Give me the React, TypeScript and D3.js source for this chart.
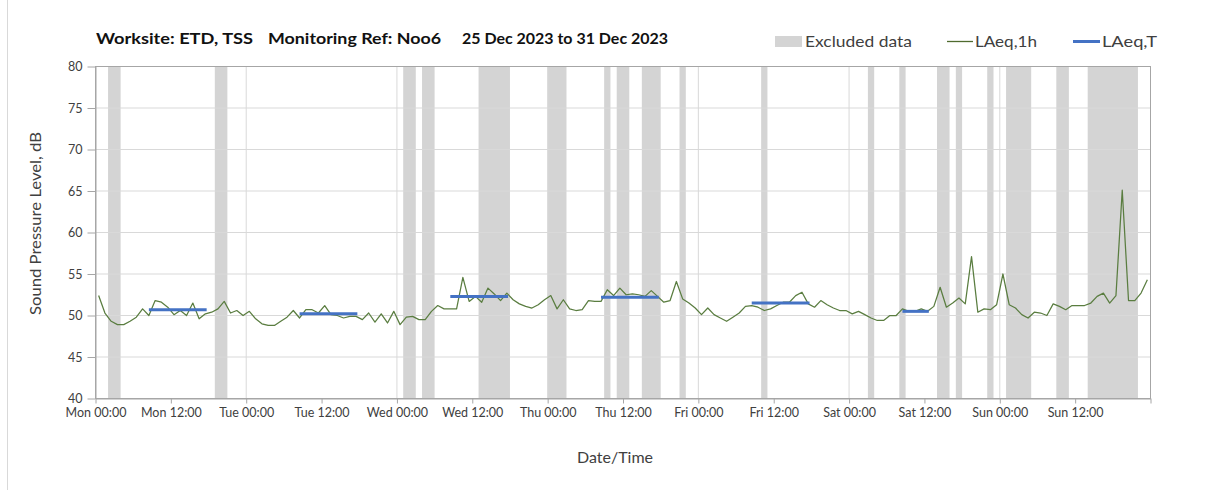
import { useEffect, useRef } from "react";
import * as d3 from "d3";

// hourly LAeq,1h values, Mon 00:00 -> Sun 23:00 (plotted mid-hour)
const laeq1h = [
  52.4, 50.3, 49.3, 48.9, 48.9, 49.3, 49.8, 50.8, 50.0, 51.8,
  51.6, 51.0, 50.1, 50.6, 50.0, 51.5, 49.6, 50.2, 50.4, 50.8,
  51.7, 50.3, 50.6, 50.0, 50.5, 49.6, 49.0, 48.8, 48.8, 49.3,
  49.8, 50.6, 49.7, 50.7, 50.7, 50.3, 51.2, 50.1, 50.0, 49.7,
  49.9, 49.9, 49.5, 50.3, 49.2, 50.2, 49.1, 50.5, 48.9, 49.8,
  49.9, 49.5, 49.5, 50.5, 51.2, 50.8, 50.8, 50.8, 54.6, 51.7,
  52.3, 51.6, 53.3, 52.6, 51.8, 52.7, 51.9, 51.4, 51.1, 50.9,
  51.3, 51.9, 52.4, 50.8, 51.9, 50.8, 50.6, 50.7, 51.8, 51.7,
  51.7, 53.1, 52.4, 53.3, 52.5, 52.6, 52.5, 52.3, 53.0, 52.3,
  51.6, 51.8, 54.1, 52.0, 51.5, 50.9, 50.1, 50.9, 50.1, 49.7,
  49.3, 49.8, 50.3, 51.1, 51.2, 51.0, 50.6, 50.8, 51.2, 51.6,
  51.6, 52.4, 52.8, 51.4, 51.0, 51.8, 51.3, 50.9, 50.6, 50.6,
  50.2, 50.5, 50.1, 49.7, 49.4, 49.4, 50.0, 50.0, 50.8, 50.5,
  50.5, 50.8, 50.5, 51.1, 53.4, 51.0, 51.5, 52.1, 51.4, 57.1,
  50.4, 50.8, 50.7, 51.3, 55.0, 51.3, 50.9, 50.1, 49.7, 50.4,
  50.3, 50.0, 51.4, 51.1, 50.7, 51.2, 51.2, 51.2, 51.5, 52.3,
  52.7, 51.5, 52.4, 65.1, 51.8, 51.8, 52.7, 54.3,
];

// excluded periods, hours from Mon 00:00
const excludedStart = [2, 19, 49, 52, 61, 72, 81, 83, 87, 93, 106, 123, 128, 134, 137, 142, 145, 153, 158];
const excludedEnd = [4, 21, 51, 54, 66, 75, 82, 85, 90, 94, 107, 124, 129, 136, 138, 143, 149, 155, 166];

// LAeq,T periods
const periodStart = [8, 32, 56, 80, 104, 128];
const periodEnd = [17, 41, 65, 89, 113, 132];
const laeqT = [50.7, 50.2, 52.3, 52.2, 51.5, 50.5];

const xTickLabels = [
  "Mon 00:00", "Mon 12:00", "Tue 00:00", "Tue 12:00", "Wed 00:00", "Wed 12:00",
  "Thu 00:00", "Thu 12:00", "Fri 00:00", "Fri 12:00", "Sat 00:00", "Sat 12:00",
  "Sun 00:00", "Sun 12:00", "",
];
const yTicks = [40, 45, 50, 55, 60, 65, 70, 75, 80];

const FONT = "Lato, 'Open Sans', sans-serif";

export default function App() {
  const svgRef = useRef<SVGSVGElement | null>(null);

  useEffect(() => {
    if (!svgRef.current) return;
    const svg = d3.select(svgRef.current);
    svg.selectAll("*").remove();

    const x = d3.scaleLinear().domain([0, 168]).range([95.5, 1150.5]);
    const y = d3.scaleLinear().domain([40, 80]).range([398.5, 66.5]);

    // chart border (left edge only visible)
    svg.append("line")
      .attr("x1", 7.5).attr("x2", 7.5).attr("y1", 0).attr("y2", 490)
      .attr("stroke", "#d9d9d9");

    // excluded bands
    svg.append("g")
      .selectAll("rect")
      .data(excludedStart)
      .enter()
      .append("rect")
      .attr("x", (d) => x(d))
      .attr("y", y(80))
      .attr("width", (d, i) => x(excludedEnd[i]) - x(d))
      .attr("height", y(40) - y(80))
      .attr("fill", "#d4d4d4");

    // gridlines
    svg.append("g")
      .selectAll("line")
      .data(yTicks.slice(1, -1))
      .enter()
      .append("line")
      .attr("x1", x(0)).attr("x2", x(168))
      .attr("y1", (d) => y(d)).attr("y2", (d) => y(d))
      .attr("stroke", "#d9d9d9");

    svg.append("g")
      .selectAll("line")
      .data([24, 48, 72, 96, 120, 144])
      .enter()
      .append("line")
      .attr("x1", (d) => x(d)).attr("x2", (d) => x(d))
      .attr("y1", y(80)).attr("y2", y(40))
      .attr("stroke", "#d9d9d9");

    // LAeq,1h line
    const line = d3.line<number>()
      .x((d, i) => x(i + 0.5))
      .y((d) => y(d));
    svg.append("path")
      .datum(laeq1h)
      .attr("d", line)
      .attr("fill", "none")
      .attr("stroke", "#5a7d40")
      .attr("stroke-width", 1.25)
      .attr("stroke-linejoin", "round");

    // LAeq,T segments
    svg.append("g")
      .selectAll("line")
      .data(laeqT)
      .enter()
      .append("line")
      .attr("x1", (d, i) => x(periodStart[i] + 0.5))
      .attr("x2", (d, i) => x(periodEnd[i] + 0.7))
      .attr("y1", (d) => y(d))
      .attr("y2", (d) => y(d))
      .attr("stroke", "#4472c4")
      .attr("stroke-width", 3);

    // plot frame
    svg.append("rect")
      .attr("x", x(0)).attr("y", y(80))
      .attr("width", x(168) - x(0)).attr("height", y(40) - y(80))
      .attr("fill", "none")
      .attr("stroke", "#a6a6a6");

    // axes
    const xAxis = svg.append("g")
      .attr("transform", `translate(0,${y(40)})`)
      .call(
        d3.axisBottom(x)
          .tickValues(d3.range(0, 169, 12))
          .tickSize(5)
          .tickSizeOuter(0)
          .tickPadding(5)
          .tickFormat((d, i) => xTickLabels[i])
      );
    xAxis.select(".domain").attr("stroke", "#a6a6a6");
    xAxis.selectAll(".tick line").attr("stroke", "#a6a6a6");
    xAxis.selectAll("text")
      .style("font-size", "12.5px")
      .style("font-family", FONT)
      .attr("fill", "#404040");

    const yAxis = svg.append("g")
      .attr("transform", `translate(${x(0)},0)`)
      .call(
        d3.axisLeft(y)
          .tickValues(yTicks)
          .tickSize(8)
          .tickSizeOuter(0)
          .tickPadding(5)
      );
    yAxis.select(".domain").attr("stroke", "#a6a6a6");
    yAxis.selectAll(".tick line").attr("stroke", "#a6a6a6");
    yAxis.selectAll("text")
      .style("font-size", "12.5px")
      .style("font-family", FONT)
      .attr("fill", "#404040");

    // axis titles
    svg.append("text")
      .attr("transform", "translate(41,223.5) rotate(-90)")
      .attr("text-anchor", "middle")
      .attr("textLength", 183)
      .attr("lengthAdjust", "spacingAndGlyphs")
      .style("font-size", "15px")
      .style("font-family", FONT)
      .attr("fill", "#404040")
      .text("Sound Pressure Level, dB");

    svg.append("text")
      .attr("x", 615).attr("y", 463)
      .attr("text-anchor", "middle")
      .style("font-size", "16px")
      .style("font-family", FONT)
      .attr("fill", "#404040")
      .text("Date/Time");

    // title
    const titleParts = [
      { t: "Worksite: ETD, TSS", x0: 96, x1: 253 },
      { t: "Monitoring Ref: Noo6", x0: 268, x1: 441 },
      { t: "25 Dec 2023 to 31 Dec 2023", x0: 462, x1: 668 },
    ];
    svg.append("g")
      .selectAll("text")
      .data(titleParts)
      .enter()
      .append("text")
      .attr("x", (d) => d.x0)
      .attr("y", 44)
      .attr("textLength", (d) => d.x1 - d.x0)
      .attr("lengthAdjust", "spacingAndGlyphs")
      .style("font-size", "16px")
      .style("font-weight", "700")
      .style("font-family", FONT)
      .attr("fill", "#111")
      .text((d) => d.t);

    // legend
    const lg = svg.append("g");
    lg.append("rect")
      .attr("x", 775).attr("y", 36).attr("width", 27).attr("height", 11)
      .attr("fill", "#d4d4d4");
    lg.append("line")
      .attr("x1", 947).attr("x2", 973).attr("y1", 41.5).attr("y2", 41.5)
      .attr("stroke", "#4f6b2f").attr("stroke-width", 1.3);
    lg.append("line")
      .attr("x1", 1073).attr("x2", 1100).attr("y1", 41.5).attr("y2", 41.5)
      .attr("stroke", "#4472c4").attr("stroke-width", 3);
    const legendText = [
      { t: "Excluded data", x0: 805, x1: 912 },
      { t: "LAeq,1h", x0: 975, x1: 1037 },
      { t: "LAeq,T", x0: 1102, x1: 1157 },
    ];
    lg.selectAll("text")
      .data(legendText)
      .enter()
      .append("text")
      .attr("x", (d) => d.x0)
      .attr("y", 46.5)
      .attr("textLength", (d) => d.x1 - d.x0)
      .attr("lengthAdjust", "spacingAndGlyphs")
      .style("font-size", "16px")
      .style("font-family", FONT)
      .attr("fill", "#404040")
      .text((d) => d.t);
  }, []);

  return (
    <svg
      ref={svgRef}
      width={1208}
      height={490}
      style={{ position: "absolute", left: 0, top: 0, background: "#fff" }}
    />
  );
}
